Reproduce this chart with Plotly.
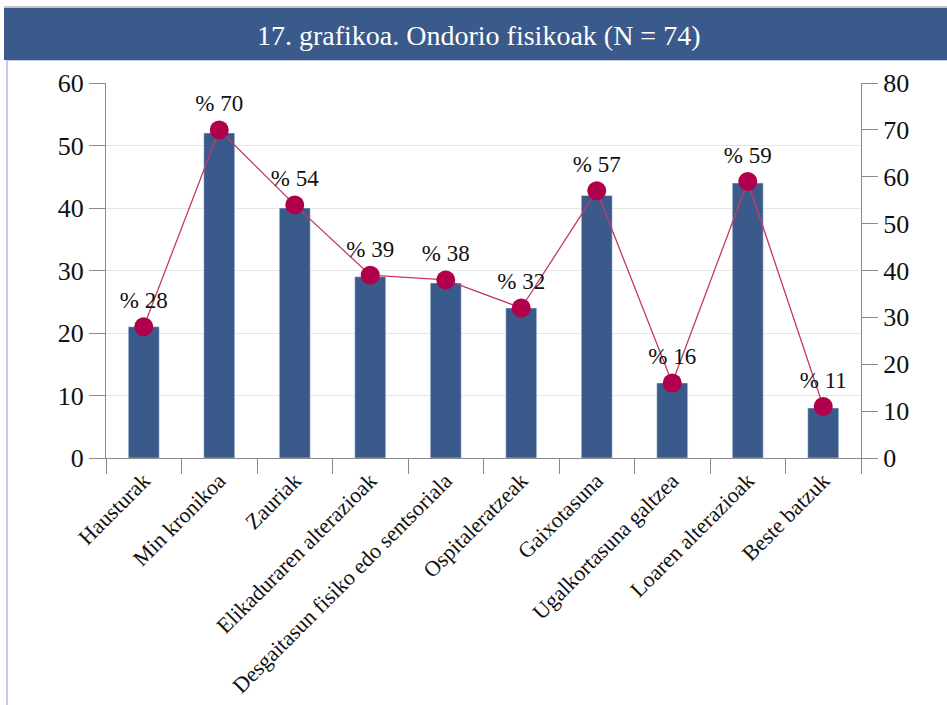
import plotly.graph_objects as go

categories = ["Hausturak", "Min kronikoa", "Zauriak", "Elikaduraren alterazioak",
              "Desgaitasun fisiko edo sentsoriala", "Ospitaleratzeak", "Gaixotasuna",
              "Ugalkortasuna galtzea", "Loaren alterazioak", "Beste batzuk"]
counts = [21, 52, 40, 29, 28, 24, 42, 12, 44, 8]
percents = [28, 70, 54, 39, 38, 32, 57, 16, 59, 11]
pct_labels = ["% " + str(p) for p in percents]

W, H = 947, 705
L, R, T, B = 106, 861, 83, 458

def px(x):
    return (x - L) / (R - L)

def py(y):
    return (B - y) / (B - T)

FONT = "Liberation Serif"
BAR = "#3a5a8c"
LINE = "#b0004c"

fig = go.Figure()
fig.add_trace(go.Bar(x=categories, y=counts, marker_color=BAR, width=0.41,
                     yaxis="y", showlegend=False, hoverinfo="x+y"))
fig.add_trace(go.Scatter(x=categories, y=percents, yaxis="y2", mode="lines+markers+text",
                         line=dict(color="#c23a63", width=1.3),
                         marker=dict(color=LINE, size=19),
                         text=pct_labels, textposition="top center",
                         textfont=dict(family=FONT, size=23, color="#111111"),
                         showlegend=False, cliponaxis=False))

axis_common = dict(showline=True, linecolor="#8a8a8a", linewidth=1.3,
                   ticks="outside", ticklen=16, tickcolor="#8a8a8a", tickwidth=1.3,
                   tickfont=dict(family=FONT, size=26, color="#111111"), zeroline=False,
                   automargin=False)

fig.update_layout(
    width=W, height=H,
    margin=dict(l=L, r=W - R, t=T, b=H - B, pad=0, autoexpand=False),
    paper_bgcolor="white", plot_bgcolor="white",
    bargap=0.59,
    xaxis=dict(showline=True, linecolor="#8a8a8a", linewidth=1.3,
               ticks="outside", ticklen=15, tickcolor="#8a8a8a", tickwidth=1.3,
               tickson="boundaries", tickangle=-45, range=[-0.5, 9.5],
               tickfont=dict(family=FONT, size=22, color="#111111"),
               showgrid=False, automargin=False),
    yaxis=dict(range=[0, 60], dtick=10, showgrid=True, gridcolor="#e6e6e6", gridwidth=1,
               **axis_common),
    yaxis2=dict(range=[0, 80], dtick=10, overlaying="y", side="right", showgrid=False,
                **axis_common),
    shapes=[
        dict(type="rect", xref="paper", yref="paper",
             x0=px(7), x1=px(960), y0=py(720), y1=py(60),
             line=dict(color="#b3bfd8", width=1.5), fillcolor="rgba(0,0,0,0)", layer="below"),
        dict(type="rect", xref="paper", yref="paper",
             x0=px(4), x1=px(960), y0=py(60), y1=py(8),
             line=dict(width=0), fillcolor="#3b5a8c", layer="below"),
        dict(type="line", xref="paper", yref="paper",
             x0=px(4), x1=px(960), y0=py(7), y1=py(7),
             line=dict(color="#b0b0b0", width=1.5)),
    ],
    annotations=[
        dict(text="17. grafikoa. Ondorio fisikoak (N = 74)", xref="paper", yref="paper",
             x=px(478), y=py(35), xanchor="center", yanchor="middle", showarrow=False,
             font=dict(family=FONT, size=28, color="white")),
    ],
)

fig.write_html("out.html", config={"displayModeBar": False},
               post_script="document.body.style.margin='0';document.body.style.padding='0';")
